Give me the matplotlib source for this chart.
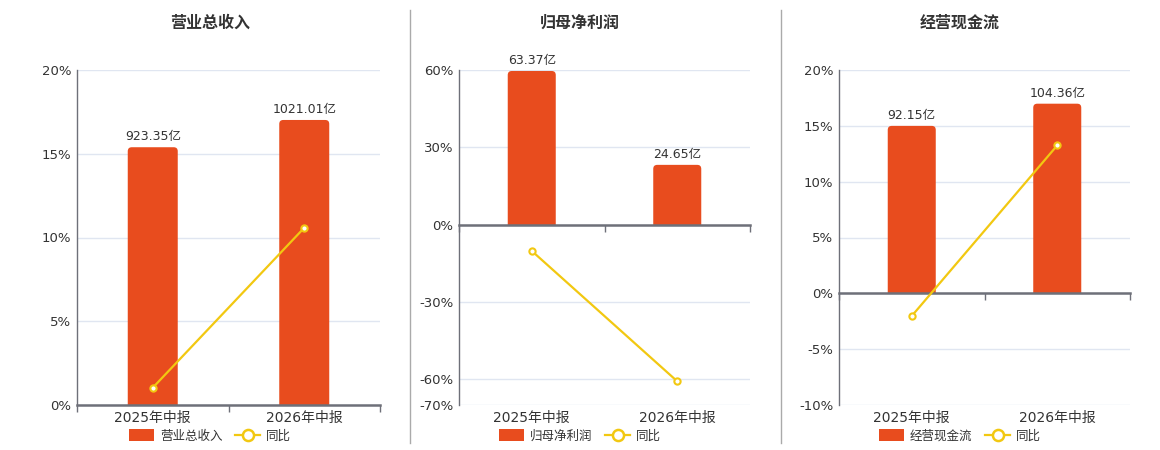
import matplotlib
matplotlib.use("Agg")
import matplotlib.pyplot as plt
import numpy as np
from matplotlib.patches import FancyBboxPatch
from matplotlib.lines import Line2D
from matplotlib.ticker import FuncFormatter
from matplotlib.transforms import Bbox, TransformedBbox

plt.rcParams['font.family'] = ['DejaVu Sans', 'Noto Sans CJK SC']

# data
periods = ['2025年中报', '2026年中报']

titles = ['营业总收入', '归母净利润', '经营现金流']
revenue = [923.35, 1021.01]
revenue_yoy = [1.03, 10.58]
profit = [63.37, 24.65]
profit_yoy = [-10.2, -60.8]
cashflow = [92.15, 104.36]
cashflow_yoy = [-2.03, 13.25]

yticks_revenue = [0, 5, 10, 15, 20]
yticks_profit = [-70, -60, -30, 0, 30, 60]
yticks_cashflow = [-10, -5, 0, 5, 10, 15, 20]

BAR_COLOR = '#e84c1e'
LINE_COLOR = '#f2c811'
AXIS_COLOR = '#6e7079'
GRID_COLOR = '#e0e6f1'
TEXT_COLOR = '#333333'

W, H = 1160, 450
fig = plt.figure(figsize=(W / 100, H / 100), dpi=100)

panels = [
    # values, yoy, ticks, bar units per 1%, axes box (px), centre x (px)
    (revenue, revenue_yoy, yticks_revenue, 60.0, (77, 70, 380, 405), 210),
    (profit, profit_yoy, yticks_profit, 1.063, (459, 70, 750, 405), 580),
    (cashflow, cashflow_yoy, yticks_cashflow, 6.145, (839, 70, 1130, 405), 960),
]


def round_tops(axb, bars, radius_px=4):
    # swap each plain bar for one with rounded top corners
    pos = axb.get_position()
    x0, x1 = axb.get_xlim()
    y0, y1 = axb.get_ylim()
    rx = radius_px * (x1 - x0) / (pos.width * W)
    ry = radius_px * (y1 - y0) / (pos.height * H)
    for rect in bars:
        x, y = rect.get_x(), rect.get_y()
        w, h = rect.get_width(), rect.get_height()
        fb = FancyBboxPatch((x, y - 2 * ry), w, h + 2 * ry,
                            boxstyle=f"round,pad=0,rounding_size={rx}",
                            mutation_aspect=ry / rx,
                            facecolor=BAR_COLOR, edgecolor='none', zorder=2)
        axb.add_patch(fb)
        fb.set_clip_box(TransformedBbox(Bbox([[x - w, y], [x + 2 * w, y1]]),
                                        axb.transData))
        rect.set_height(0)


for title, (vals, yoy, ticks, k, box, cx) in zip(titles, panels):
    l, t, r, b = box
    ax = fig.add_axes([l / W, 1 - b / H, (r - l) / W, (b - t) / H])
    axb = ax.twinx()
    axb.set_zorder(0)
    ax.set_zorder(1)
    ax.patch.set_visible(False)

    x = np.arange(len(periods))
    lo, hi = min(ticks), max(ticks)

    # bars on the hidden axis
    axb.set_xlim(-0.5, len(periods) - 0.5)
    axb.set_ylim(lo * k, hi * k)
    bars = axb.bar(x, vals, width=0.33, color=BAR_COLOR, zorder=2)
    axb.bar_label(bars, labels=[f"{v:.2f}亿" for v in vals], padding=3,
                  fontsize=9, color=TEXT_COLOR)
    round_tops(axb, bars)
    axb.set_yticks(np.array(ticks) * k)
    axb.set_axisbelow(True)
    axb.yaxis.grid(True, color=GRID_COLOR, linewidth=1)
    axb.tick_params(right=False, labelright=False, bottom=False, labelbottom=False)
    for s in axb.spines.values():
        s.set_visible(False)

    # yoy line on the percent axis
    ax.set_xlim(-0.5, len(periods) - 0.5)
    ax.set_ylim(lo, hi)
    ax.plot(x, yoy, color=LINE_COLOR, linewidth=1.6, marker='o', markersize=4.5,
            markerfacecolor='white', markeredgecolor=LINE_COLOR, markeredgewidth=1.5,
            zorder=3)
    ax.set_yticks(ticks)
    ax.yaxis.set_major_formatter(FuncFormatter(lambda v, p: f"{v:g}%"))
    ax.tick_params(axis='y', length=0, labelsize=9.5, labelcolor=TEXT_COLOR, pad=4)

    for s in ['top', 'right']:
        ax.spines[s].set_visible(False)
    ax.spines['left'].set_color(AXIS_COLOR)
    ax.spines['left'].set_linewidth(1)
    ax.spines['bottom'].set_position(('data', 0))
    ax.spines['bottom'].set_color(AXIS_COLOR)
    ax.spines['bottom'].set_linewidth(1.8)
    ax.set_xticks(x)
    ax.set_xticks([-0.5, 0.5, 1.5], minor=True)
    ax.tick_params(axis='x', which='major', length=0, labelbottom=False)
    ax.tick_params(axis='x', which='minor', length=5, width=1, color=AXIS_COLOR)

    sec = ax.secondary_xaxis('bottom')
    sec.set_xticks(x, labels=periods)
    sec.spines['bottom'].set_visible(False)
    sec.tick_params(length=0, labelsize=10, labelcolor=TEXT_COLOR, pad=4)

    fig.text(cx / W, 1 - 23 / H, title, ha='center', va='center',
             fontsize=11.5, fontweight='bold', color=TEXT_COLOR)

    yoy_handle = Line2D([], [], color=LINE_COLOR, linewidth=1.6, marker='o',
                        markersize=8, markerfacecolor='white',
                        markeredgecolor=LINE_COLOR, markeredgewidth=1.8)
    ax.legend([bars, yoy_handle], [title, '同比'], loc='center',
              bbox_to_anchor=(cx / W, 1 - 436 / H), bbox_transform=fig.transFigure,
              ncol=2, frameon=False, fontsize=9, handlelength=2.0,
              handleheight=1.1, handletextpad=0.5, columnspacing=1.0,
              labelcolor=TEXT_COLOR)

# dividers between panels
for xd in [410, 780.5]:
    fig.add_artist(Line2D([xd / W, xd / W], [1 - 10 / H, 1 - 443 / H],
                          color='#aaaaaa', linewidth=1))

fig.savefig('out.png', dpi=100)
